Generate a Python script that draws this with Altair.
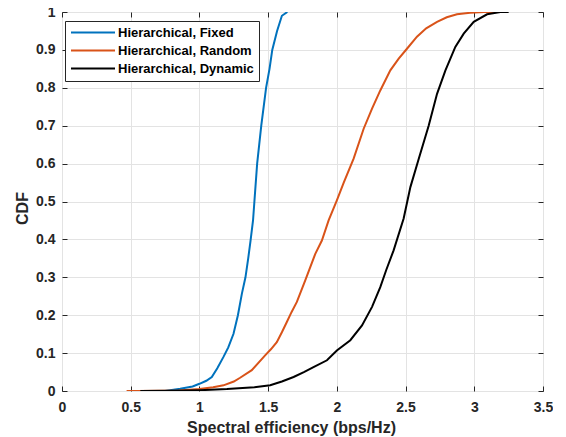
import altair as alt
import pandas as pd

series_names = ["Hierarchical, Fixed", "Hierarchical, Random", "Hierarchical, Dynamic"]
series_colors = ["#0072BD", "#D95319", "#000000"]

fixed_x = [0.75, 0.86, 0.95, 1.0, 1.05, 1.09, 1.13, 1.175, 1.21, 1.248, 1.28, 1.309, 1.335, 1.355,
           1.372, 1.39, 1.40, 1.42, 1.45, 1.485, 1.51, 1.53, 1.565, 1.60, 1.64]
fixed_y = [0.0, 0.006, 0.012, 0.019, 0.027, 0.037, 0.06, 0.09, 0.115, 0.151, 0.2, 0.257, 0.30, 0.35,
           0.397, 0.45, 0.50, 0.60, 0.70, 0.80, 0.85, 0.90, 0.95, 0.99, 1.0]

random_x = [0.47, 0.55, 0.7, 0.85, 1.0, 1.1, 1.175, 1.25, 1.296, 1.381, 1.478, 1.52, 1.563, 1.60,
            1.636, 1.67, 1.709, 1.77, 1.843, 1.891, 1.94, 2.0, 2.05, 2.122, 2.195, 2.256, 2.316,
            2.389, 2.45, 2.51, 2.583, 2.65, 2.729, 2.80, 2.874, 2.97, 3.07, 3.2]
random_y = [0.0, 0.0, 0.0005, 0.001, 0.005, 0.01, 0.015, 0.025, 0.035, 0.055, 0.094, 0.11, 0.129,
            0.155, 0.182, 0.208, 0.235, 0.292, 0.362, 0.397, 0.45, 0.503, 0.55, 0.613, 0.692,
            0.745, 0.793, 0.846, 0.877, 0.903, 0.935, 0.957, 0.974, 0.986, 0.994, 0.998, 1.0, 1.0]

dynamic_x = [0.57, 0.8, 1.0, 1.2, 1.4, 1.515, 1.6, 1.685, 1.76, 1.83, 1.928, 2.0, 2.098, 2.183,
             2.256, 2.316, 2.36, 2.413, 2.486, 2.535, 2.596, 2.668, 2.729, 2.79, 2.862, 2.923,
             2.996, 3.093, 3.19, 3.25]
dynamic_y = [0.0, 0.0005, 0.002, 0.005, 0.01, 0.015, 0.025, 0.037, 0.05, 0.063, 0.081, 0.107,
             0.134, 0.173, 0.222, 0.274, 0.32, 0.371, 0.455, 0.538, 0.613, 0.70, 0.784, 0.846,
             0.908, 0.943, 0.974, 0.994, 1.0, 1.0]

x_ticks = [0, 0.5, 1, 1.5, 2, 2.5, 3, 3.5]
y_ticks = [0, 0.1, 0.2, 0.3, 0.4, 0.5, 0.6, 0.7, 0.8, 0.9, 1]

rows = []
for name, xs, ys in zip(series_names, [fixed_x, random_x, dynamic_x], [fixed_y, random_y, dynamic_y]):
    for i, (xv, yv) in enumerate(zip(xs, ys)):
        rows.append({"series": name, "x": xv, "y": yv, "order": i})
df = pd.DataFrame(rows)

FONT = "Liberation Sans"
TXT = "#262626"
xscale = alt.Scale(domain=[0, 3.5], nice=False, zero=False)
yscale = alt.Scale(domain=[0, 1], nice=False, zero=False)

lines = alt.Chart(df).mark_line(strokeWidth=2, clip=True).encode(
    x=alt.X("x:Q", scale=xscale, axis=alt.Axis(
        values=x_ticks, format="~g", title="Spectral efficiency (bps/Hz)", orient="bottom",
        grid=True, gridColor="#e3e3e3", gridWidth=1, domain=False, offset=-5, tickSize=5,
        tickColor=TXT, labelPadding=9, labelFont=FONT, labelFontSize=14, labelFontWeight="bold",
        labelColor=TXT, titleFont=FONT, titleFontSize=16, titleFontWeight="bold", titleColor=TXT,
        titleX=229, titleY=46, titleAlign="center", titleBaseline="alphabetic", labelFlush=False)),
    y=alt.Y("y:Q", scale=yscale, axis=alt.Axis(
        values=y_ticks, format="~g", title="CDF", orient="left",
        grid=True, gridColor="#e3e3e3", gridWidth=1, domain=False, offset=-5, tickSize=5,
        tickColor=TXT, labelPadding=7, labelFont=FONT, labelFontSize=14, labelFontWeight="bold",
        labelColor=TXT, titleFont=FONT, titleFontSize=16, titleFontWeight="bold", titleColor=TXT,
        titleX=-45, titleY=196, titleAlign="center", titleBaseline="middle", titleAngle=270,
        labelFlush=False)),
    color=alt.Color("series:N", scale=alt.Scale(domain=series_names, range=series_colors),
                    legend=alt.Legend(
                        title=None, orient="none", legendX=3, legendY=9,
                        strokeColor="#262626", fillColor="white", padding=5,
                        symbolType="M-1,0L7,0", symbolSize=121, symbolStrokeWidth=2,
                        labelFont=FONT, labelFontSize=13, labelFontWeight="bold",
                        labelColor="black", labelOffset=35, rowPadding=4, labelLimit=300)),
    order="order:Q",
)

frame = alt.Chart(df).mark_point(opacity=0).encode(
    x=alt.X("x:Q", scale=xscale, axis=alt.Axis(
        values=x_ticks, orient="top", labels=False, title=None, grid=False, domain=False,
        offset=-5, tickSize=5, tickColor=TXT)),
    y=alt.Y("y:Q", scale=yscale, axis=alt.Axis(
        values=y_ticks, orient="right", labels=False, title=None, grid=False, domain=False,
        offset=-5, tickSize=5, tickColor=TXT)),
)

chart = alt.layer(lines, frame).resolve_axis(x="independent", y="independent").properties(
    width=481, height=379,
    autosize=alt.AutoSizeParams(type="none"),
    padding={"left": 54, "top": 4, "right": 10, "bottom": 46},
    background="white",
).configure_view(stroke="#262626", strokeWidth=1)

chart.save("out.html", embed_options={"renderer": "svg", "actions": False})
